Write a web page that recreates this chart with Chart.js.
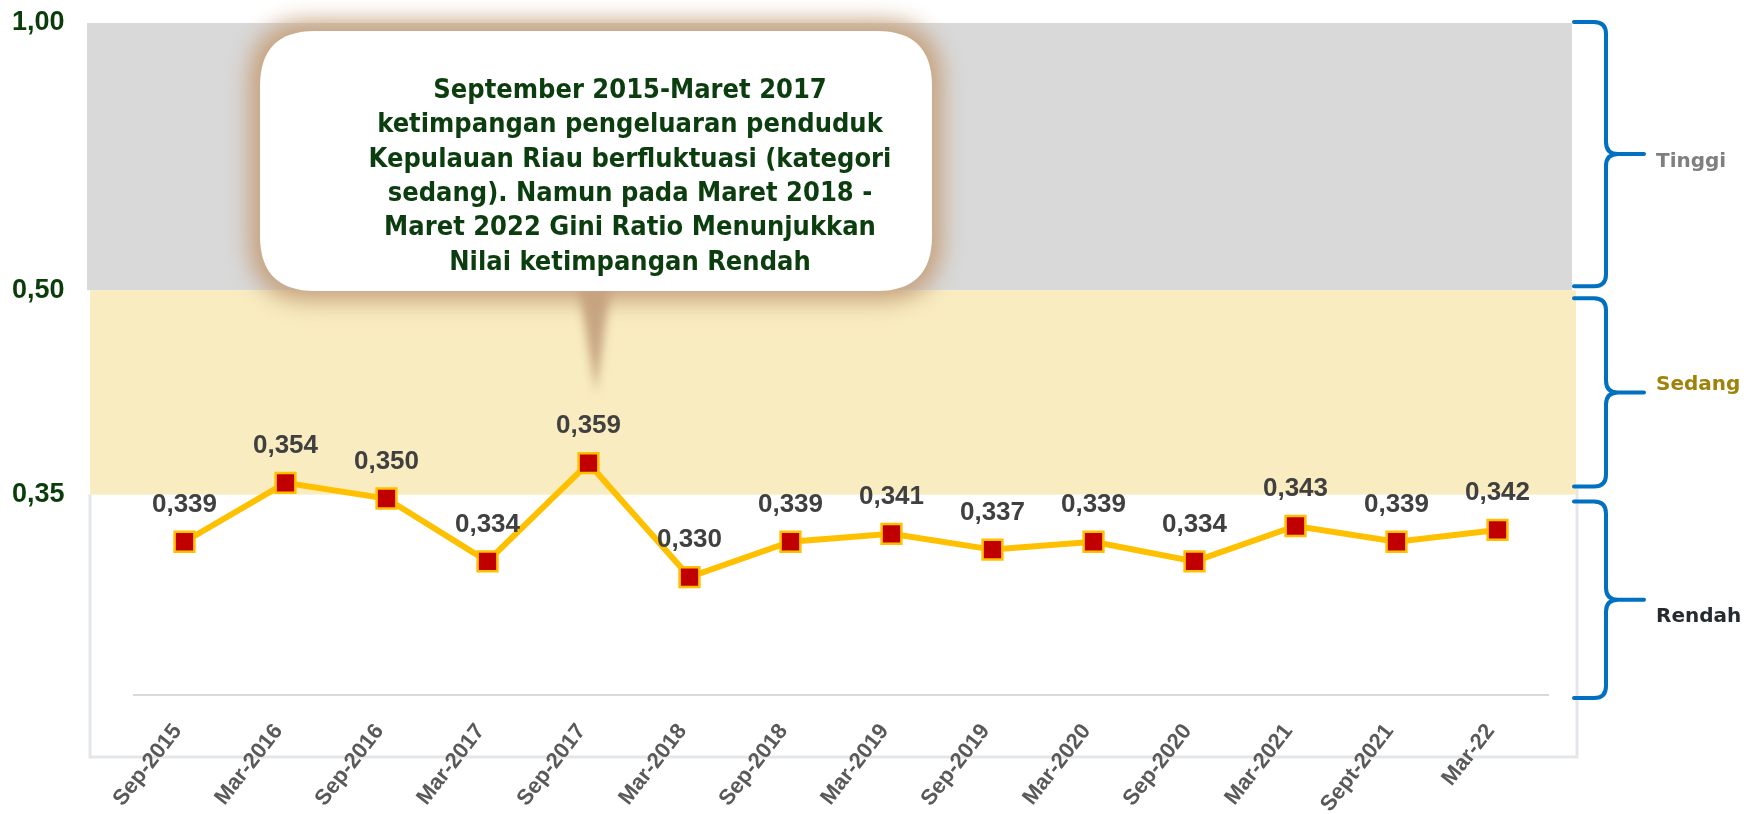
<!DOCTYPE html>
<html><head><meta charset="utf-8">
<script src="https://cdn.jsdelivr.net/npm/chart.js@4.4.1/dist/chart.umd.min.js"></script>
<style>html,body{margin:0;padding:0;background:#fff;overflow:hidden}</style>
</head><body>
<canvas id="c" width="1750" height="814" style="display:block;width:1750px;height:814px"></canvas>
<script>
// ---- data ----
const categories = ['Sep-2015','Mar-2016','Sep-2016','Mar-2017','Sep-2017','Mar-2018','Sep-2018','Mar-2019','Sep-2019','Mar-2020','Sep-2020','Mar-2021','Sept-2021','Mar-22'];
const giniValues = [0.339,0.354,0.350,0.334,0.359,0.330,0.339,0.341,0.337,0.339,0.334,0.343,0.339,0.342];
// positions of the category boundaries on the drawing's value axis and their printed labels
const yTickValues = [0.351, 0.403, 0.471];
const yTickLabels = ['0,35', '0,50', '1,00'];
const bandNames = ['Rendah', 'Sedang', 'Tinggi'];
const calloutLines = [
  'September 2015-Maret 2017',
  'ketimpangan pengeluaran penduduk',
  'Kepulauan Riau berfluktuasi (kategori',
  'sedang). Namun pada Maret 2018 -',
  'Maret 2022 Gini Ratio Menunjukkan',
  'Nilai ketimpangan Rendah'
];

function fmt(v){ return v.toFixed(3).replace('.', ','); }

function roundRect(ctx, x, y, w, h, r){
  ctx.beginPath();
  ctx.moveTo(x + r, y);
  ctx.lineTo(x + w - r, y);
  ctx.quadraticCurveTo(x + w, y, x + w, y + r);
  ctx.lineTo(x + w, y + h - r);
  ctx.quadraticCurveTo(x + w, y + h, x + w - r, y + h);
  ctx.lineTo(x + r, y + h);
  ctx.quadraticCurveTo(x, y + h, x, y + h - r);
  ctx.lineTo(x, y + r);
  ctx.quadraticCurveTo(x, y, x + r, y);
  ctx.closePath();
}

function brace(ctx, xEnd, xV, xTip, top, bottom){
  const mid = (top + bottom) / 2;
  const r = 12;
  ctx.beginPath();
  ctx.moveTo(xEnd, top);
  ctx.lineTo(xV - r, top);
  ctx.quadraticCurveTo(xV, top, xV, top + r);
  ctx.lineTo(xV, mid - r);
  ctx.quadraticCurveTo(xV, mid, xV + r, mid);
  ctx.lineTo(xTip, mid);
  ctx.moveTo(xV + r, mid);
  ctx.quadraticCurveTo(xV, mid, xV, mid + r);
  ctx.lineTo(xV, bottom - r);
  ctx.quadraticCurveTo(xV, bottom, xV - r, bottom);
  ctx.lineTo(xEnd, bottom);
  ctx.stroke();
}

const backgroundPlugin = {
  id: 'bands',
  beforeDraw(chart){
    const {ctx, chartArea: a, scales: {y}} = chart;
    const yLow = y.getPixelForValue(yTickValues[0]);
    const yMid = y.getPixelForValue(yTickValues[1]);
    const yTop = y.getPixelForValue(yTickValues[2]);
    ctx.save();
    ctx.fillStyle = '#ffffff';
    ctx.fillRect(0, 0, chart.width, chart.height);
    // frame of white region
    ctx.strokeStyle = '#e3e7ea';
    ctx.lineWidth = 3;
    ctx.beginPath();
    ctx.moveTo(a.left - 44, yLow);
    ctx.lineTo(a.left - 44, a.bottom + 62);
    ctx.lineTo(a.right + 29, a.bottom + 62);
    ctx.lineTo(a.right + 29, yLow - 6);
    ctx.stroke();
    // Tinggi band
    ctx.fillStyle = '#d9d9d9';
    ctx.fillRect(a.left - 47, yTop, (a.right + 24) - (a.left - 47), yMid - yTop);
    // Sedang band
    ctx.fillStyle = '#f9ecc0';
    ctx.fillRect(a.left - 44, yMid, (a.right + 28) - (a.left - 44), yLow - yMid);

    // callout tail
    ctx.filter = 'blur(5px)';
    ctx.fillStyle = '#c7a683';
    ctx.beginPath();
    ctx.moveTo(a.left + 443, yMid - 12);
    ctx.lineTo(a.left + 478, yMid - 12);
    ctx.lineTo(a.left + 462, yMid + 102);
    ctx.closePath();
    ctx.fill();
    // callout glow
    ctx.filter = 'blur(11px)';
    ctx.fillStyle = '#c6a27e';
    roundRect(ctx, 249, 21, 693, 280, 62);
    ctx.fill();
    ctx.filter = 'none';
    ctx.fillStyle = '#ffffff';
    roundRect(ctx, 260, 31, 672, 260, 55);
    ctx.fill();
    // callout text
    ctx.fillStyle = '#0b3d0e';
    ctx.font = 'bold 27px "DejaVu Sans Condensed", "DejaVu Sans"';
    ctx.textAlign = 'center';
    ctx.textBaseline = 'middle';
    calloutLines.forEach((t, i) => ctx.fillText(t, 630, 91 + i * 34.3));
    ctx.restore();
  },
  afterDatasetsDraw(chart){
    const {ctx, chartArea: a, scales: {y}} = chart;
    const meta = chart.getDatasetMeta(0);
    ctx.save();
    ctx.fillStyle = '#404040';
    ctx.font = 'bold 26px "Liberation Sans", Arial';
    ctx.textAlign = 'center';
    ctx.textBaseline = 'middle';
    meta.data.forEach((p, i) => ctx.fillText(fmt(giniValues[i]), p.x, p.y - 37));

    // braces
    const yLow = y.getPixelForValue(yTickValues[0]);
    const yMid = y.getPixelForValue(yTickValues[1]);
    const yTop = y.getPixelForValue(yTickValues[2]);
    ctx.strokeStyle = '#0070c0';
    ctx.lineWidth = 4;
    ctx.lineCap = 'round';
    ctx.lineJoin = 'round';
    const xEnd = a.right + 26, xV = a.right + 58, xTip = a.right + 96;
    brace(ctx, xEnd, xV, xTip, yTop - 1, yMid - 4);
    brace(ctx, xEnd, xV, xTip, yMid + 8, yLow - 8);
    brace(ctx, xEnd, xV, xTip, yLow + 7, a.bottom + 3);
    ctx.font = 'bold 20px "DejaVu Sans"';
    ctx.textAlign = 'left';
    ctx.fillStyle = '#7f7f7f';
    ctx.fillText(bandNames[2], a.right + 108, (yTop + yMid) / 2 + 5);
    ctx.fillStyle = '#a0820a';
    ctx.fillText(bandNames[1], a.right + 108, (yMid + yLow) / 2 - 8);
    ctx.fillStyle = '#262b30';
    ctx.fillText(bandNames[0], a.right + 108, (yLow + a.bottom) / 2 + 22);
    ctx.restore();
  }
};

new Chart(document.getElementById('c'), {
  type: 'line',
  data: {
    labels: categories,
    datasets: [{
      data: giniValues,
      borderColor: '#ffc000',
      borderWidth: 6,
      pointStyle: 'rect',
      pointRadius: 14,
      pointHoverRadius: 14,
      pointBackgroundColor: '#c00000',
      pointBorderColor: '#ffc000',
      pointBorderWidth: 2.5,
      tension: 0,
      fill: false
    }]
  },
  options: {
    responsive: false,
    animation: false,
    devicePixelRatio: 1,
    layout: { padding: { top: 23, right: 202, left: 12, bottom: 0 } },
    plugins: { legend: { display: false }, tooltip: { enabled: false } },
    scales: {
      x: {
        type: 'category',
        offset: true,
        grid: { display: false, drawTicks: false },
        border: { display: true, color: '#d9d9d9', width: 2 },
        ticks: {
          color: '#595959',
          font: { family: '"Liberation Sans", Arial', weight: 'bold', size: 22 },
          minRotation: 52, maxRotation: 52,
          padding: 24,
          labelOffset: -7,
          autoSkip: false
        },
        afterFit(s){ s.height = 119; }
      },
      y: {
        min: 0.30, max: 0.471,
        grid: { display: false, drawTicks: false },
        border: { display: false },
        afterBuildTicks(s){ s.ticks = yTickValues.map(v => ({ value: v })); },
        ticks: {
          color: '#0b3d0b',
          font: { family: '"Liberation Sans", Arial', weight: 'bold', size: 27 },
          padding: 0,
          crossAlign: 'far',
          autoSkip: false,
          callback: (v, i) => yTickLabels[i]
        },
        afterFit(s){ s.width = 122; }
      }
    }
  },
  plugins: [backgroundPlugin]
});
</script>
</body></html>
